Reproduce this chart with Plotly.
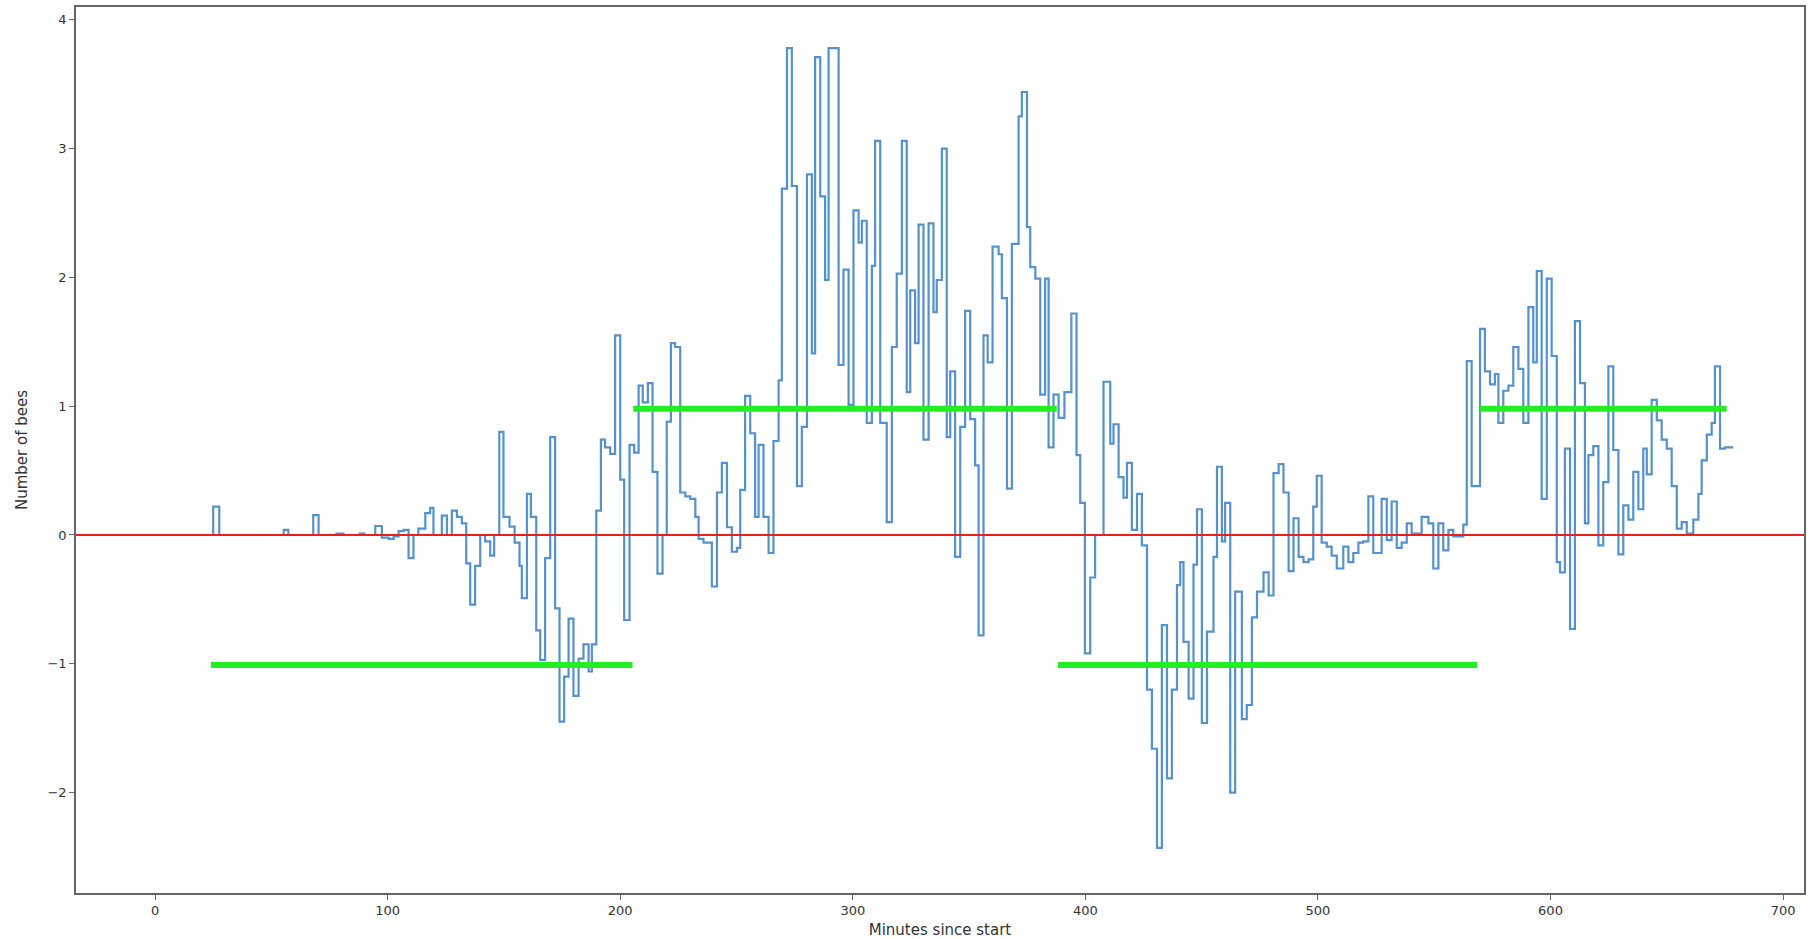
import plotly.graph_objects as go

# ---- data ----
minutes = [0, 25.0, 27.6, 55.3, 57.3, 68.0, 70.3, 78.0, 81.0, 88.0, 90.0, 94.7, 97.5, 100.4, 102.6, 104.7,
           106.9, 109.0, 111.1, 113.2, 116.2, 118.3, 119.7, 123.3, 125.5, 127.6, 129.8, 131.9, 133.8, 135.5,
           137.6, 139.8, 141.9, 144.1, 145.8, 148.0, 149.8, 152.4, 154.6, 156.7, 157.7, 159.9, 161.6, 163.9,
           165.6, 167.7, 169.9, 172.0, 173.9, 175.9, 177.8, 179.9, 182.1, 184.2, 186.4, 187.8, 189.7, 191.7,
           193.5, 195.7, 197.8, 200.0, 201.7, 204.0, 206.0, 207.9, 209.7, 211.9, 213.9, 216.0, 218.2, 220.0,
           221.8, 223.6, 225.8, 228.0, 230.1, 232.3, 233.7, 235.8, 239.4, 241.6, 243.7, 245.9, 248.0, 250.2,
           251.6, 253.7, 255.9, 258.0, 259.5, 261.6, 263.8, 265.9, 268.1, 269.5, 271.7, 273.8, 276.0, 278.1,
           280.3, 282.4, 283.8, 286.0, 288.1, 289.6, 293.9, 296.0, 298.2, 300.3, 302.5, 303.9, 306.0, 308.2,
           309.6, 311.8, 314.6, 316.8, 318.9, 321.1, 323.2, 324.7, 326.8, 328.3, 330.4, 332.6, 334.7, 336.1,
           338.3, 340.4, 341.9, 344.0, 346.2, 348.3, 350.5, 352.6, 354.1, 356.2, 358.0, 360.1, 362.7, 364.1,
           366.3, 368.4, 371.3, 372.7, 374.9, 376.3, 378.5, 380.6, 382.7, 384.2, 386.3, 388.5, 391.0, 394.0,
           396.2, 397.8, 399.8, 402.1, 404.2, 407.8, 410.7, 412.1, 414.3, 416.4, 417.9, 420.0, 422.2, 424.3,
           426.5, 428.6, 430.8, 432.9, 435.1, 437.2, 439.4, 440.8, 442.2, 444.4, 446.5, 448.0, 450.1, 452.3,
           455.1, 456.6, 458.7, 460.1, 462.3, 464.4, 467.3, 469.4, 471.6, 473.8, 476.6, 478.8, 480.9, 483.1,
           485.2, 487.4, 489.5, 491.7, 493.8, 496.0, 498.0, 499.5, 501.6, 503.8, 505.9, 508.1, 510.9, 513.1,
           515.2, 517.4, 519.5, 521.7, 523.8, 527.4, 529.6, 531.7, 533.9, 536.0, 538.2, 540.3, 544.6, 547.5,
           549.6, 551.8, 553.9, 556.1, 558.2, 562.5, 564.0, 566.1, 569.7, 571.8, 574.0, 576.1, 577.6, 579.7,
           581.9, 584.0, 586.2, 588.3, 590.5, 592.6, 594.1, 596.2, 598.4, 600.5, 602.7, 604.1, 606.2, 608.4,
           610.5, 612.7, 614.8, 616.3, 618.4, 620.6, 622.7, 624.9, 627.0, 629.2, 631.3, 633.5, 635.6, 637.8,
           639.9, 641.4, 643.5, 645.7, 647.8, 650.0, 652.1, 654.3, 656.4, 658.6, 661.4, 663.6, 665.0, 667.2,
           669.3, 670.7, 672.9, 675.0, 678.6]

bees = [0, 0.22, 0, 0.04, 0, 0.155, 0, 0.01, 0, 0.01, 0, 0.07, -0.02, -0.03, -0.01, 0.03,
        0.04, -0.18, 0, 0.05, 0.17, 0.21, 0, 0.15, 0, 0.19, 0.14, 0.09, -0.22, -0.54,
        -0.24, 0, -0.05, -0.16, 0, 0.80, 0.14, 0.065, -0.06, -0.24, -0.49, 0.32, 0.14, -0.74,
        -0.97, -0.18, 0.76, -0.57, -1.45, -1.10, -0.65, -1.25, -0.96, -0.85, -1.06, -0.85, 0.19, 0.74,
        0.68, 0.63, 1.55, 0.43, -0.66, 0.70, 0.64, 1.16, 1.03, 1.18, 0.49, -0.30, 0, 0.88,
        1.49, 1.46, 0.33, 0.30, 0.28, 0.14, -0.03, -0.06, -0.40, 0.33, 0.56, 0.06, -0.13, -0.10,
        0.35, 1.08, 0.79, 0.14, 0.70, 0.14, -0.14, 0.73, 1.20, 2.69, 3.78, 2.71, 0.38, 0.84,
        2.80, 1.41, 3.71, 2.63, 1.98, 3.78, 1.32, 2.06, 1.01, 2.52, 2.27, 2.44, 0.87, 2.09,
        3.06, 0.87, 0.10, 1.46, 2.03, 3.06, 1.11, 1.90, 1.49, 2.41, 0.74, 2.42, 1.73, 1.98,
        3.00, 0.76, 1.27, -0.17, 0.84, 1.74, 0.90, 0.54, -0.78, 1.55, 1.34, 2.24, 2.18, 1.84,
        0.36, 2.26, 3.25, 3.44, 2.39, 2.08, 1.99, 1.09, 1.99, 0.68, 1.09, 0.91, 1.11, 1.72,
        0.62, 0.25, -0.92, -0.33, 0, 1.19, 0.71, 0.86, 0.45, 0.29, 0.56, 0.04, 0.32, -0.08,
        -1.20, -1.66, -2.43, -0.70, -1.89, -1.20, -0.39, -0.21, -0.83, -1.27, -0.23, 0.20, -1.46, -0.75,
        -0.17, 0.53, -0.05, 0.25, -2.00, -0.44, -1.43, -1.32, -0.64, -0.44, -0.29, -0.47, 0.48, 0.55,
        0.33, -0.28, 0.13, -0.17, -0.21, -0.19, 0.22, 0.46, -0.06, -0.09, -0.16, -0.26, -0.09, -0.21,
        -0.14, -0.06, -0.05, 0.30, -0.14, 0.28, -0.04, 0.26, -0.10, -0.06, 0.09, 0.01, 0.14, 0.09,
        -0.26, 0.09, -0.12, 0.04, -0.01, 0.08, 1.35, 0.38, 1.60, 1.27, 1.17, 1.25, 0.87, 1.12,
        1.16, 1.46, 1.29, 0.87, 1.77, 1.34, 2.05, 0.28, 1.99, 1.39, -0.21, -0.29, 0.67, -0.73,
        1.66, 1.18, 0.09, 0.62, 0.69, -0.08, 0.41, 1.31, 0.66, -0.15, 0.23, 0.12, 0.49, 0.20,
        0.67, 0.47, 1.05, 0.89, 0.74, 0.67, 0.38, 0.05, 0.10, 0.01, 0.12, 0.32, 0.58, 0.78,
        0.87, 1.31, 0.67, 0.68, 0.68]

assert len(minutes) == len(bees), (len(minutes), len(bees))

period_start = [24.0, 205.6, 388.2, 569.7]
period_end = [205.3, 387.7, 568.5, 675.7]
period_level = [-1.01, 0.98, -1.01, 0.98]

x_ticks = [0, 100, 200, 300, 400, 500, 600, 700]
y_ticks = [-2, -1, 0, 1, 2, 3, 4]
x_range = [-34.0, 709.0]
y_range = [-2.78, 4.10]

fig = go.Figure()

fig.add_trace(go.Scatter(
    x=minutes, y=bees, mode="lines", line=dict(color="#5592cc", width=2.2, shape="hv"),
    showlegend=False, hoverinfo="skip"))

fig.add_trace(go.Scatter(
    x=x_range, y=[0, 0], mode="lines", line=dict(color="#e8211f", width=2.2),
    showlegend=False, hoverinfo="skip"))

for xs, xe, lv in zip(period_start, period_end, period_level):
    fig.add_trace(go.Scatter(
        x=[xs, xe], y=[lv, lv], mode="lines", line=dict(color="#22ee22", width=6),
        showlegend=False, hoverinfo="skip"))

axis_common = dict(
    showgrid=False, zeroline=False, showline=True, mirror=True, automargin=False,
    linecolor="#666666", linewidth=1.5, ticks="outside", ticklen=5, tickwidth=1,
    tickcolor="#666666", tickfont=dict(family="DejaVu Sans", size=13, color="#333333"),
)

fig.update_layout(
    width=1812, height=939,
    margin=dict(l=76, r=8, t=7, b=46, autoexpand=False),
    paper_bgcolor="white", plot_bgcolor="white",
    xaxis=dict(range=x_range, tickvals=x_ticks, **axis_common,
               title=dict(text="Minutes since start", standoff=8,
                          font=dict(family="DejaVu Sans", size=15, color="#333333"))),
    yaxis=dict(range=y_range, tickvals=y_ticks, **axis_common,
               title=dict(text="Number of bees", standoff=16,
                          font=dict(family="DejaVu Sans", size=15, color="#333333"))),
)

fig.write_html("out.html", config={"displayModeBar": False},
               post_script="document.body.style.margin='0';")
